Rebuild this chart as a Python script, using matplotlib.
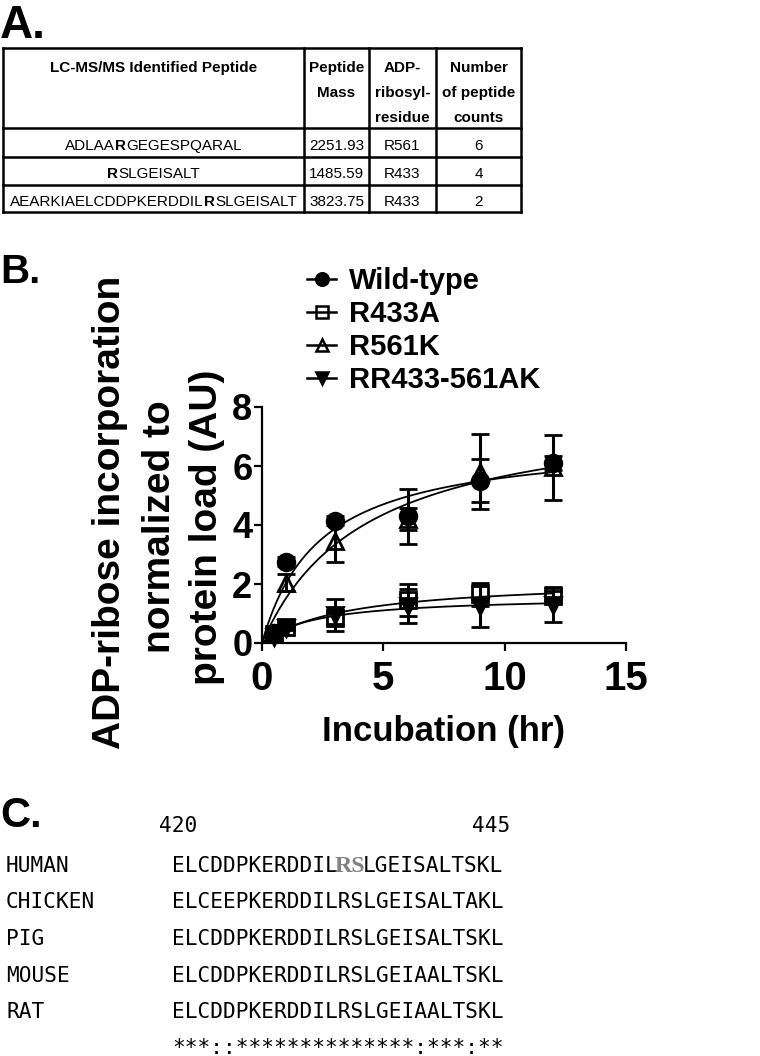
import numpy as np
import matplotlib
matplotlib.use("Agg")
import matplotlib.pyplot as plt
from matplotlib.lines import Line2D
from matplotlib import font_manager

# ---- panel A: peptide table ----
table_header = ["LC-MS/MS Identified Peptide", "Peptide\nMass",
                "ADP-\nribosyl-\nresidue", "Number\nof peptide\ncounts"]
peptides = [("ADLAA", "R", "GEGESPQARAL"),
            ("", "R", "SLGEISALT"),
            ("AEARKIAELCDDPKERDDIL", "R", "SLGEISALT")]
peptide_mass = ["2251.93", "1485.59", "3823.75"]
modified_residue = ["R561", "R433", "R433"]
peptide_counts = ["6", "4", "2"]

# ---- panel B: ADP-ribose incorporation time course ----
time_hr = [0.5, 1, 3, 6, 9, 12]
wild_type = [0.35, 2.75, 4.15, 4.3, 5.5, 6.1]
wild_type_err = [0.05, 0.15, 0.15, 0.93, 0.73, 0.25]
r433a = [0.3, 0.55, 0.85, 1.45, 1.65, 1.6]
r433a_err = [0.05, 0.05, 0.2, 0.55, 0.38, 0.15]
r561k = [0.3, 2.05, 3.45, 4.2, 5.8, 5.95]
r561k_err = [0.05, 0.3, 0.7, 0.38, 1.27, 1.1]
rr433_561ak = [0.2, 0.5, 0.95, 1.25, 1.25, 1.3]
rr433_561ak_err = [0.05, 0.05, 0.55, 0.57, 0.7, 0.6]
series_names = ["Wild-type", "R433A", "R561K", "RR433-561AK"]

# ---- panel C: sequence alignment ----
species = ["HUMAN", "CHICKEN", "PIG", "MOUSE", "RAT"]
sequences = ["ELCDDPKERDDILRSLGEISALTSKL",
             "ELCEEPKERDDILRSLGEISALTAKL",
             "ELCDDPKERDDILRSLGEISALTSKL",
             "ELCDDPKERDDILRSLGEIAALTSKL",
             "ELCDDPKERDDILRSLGEIAALTSKL"]
conservation = "***::**************:***:**"
residue_start, residue_end = "420", "445"
highlight = (13, 15)  # RS in human

W, H = 760, 1056
fig = plt.figure(figsize=(7.6, 10.56), dpi=100)


def fx(x):
    return x / W


def fy(y):
    return 1 - y / H


def hline(x0, x1, y, lw=1.8):
    fig.add_artist(Line2D([fx(x0), fx(x1)], [fy(y), fy(y)], color="k", lw=lw))


def vline(x, y0, y1, lw=1.8):
    fig.add_artist(Line2D([fx(x), fx(x)], [fy(y0), fy(y1)], color="k", lw=lw))


# narrow font for the table if we have it
try:
    font_manager.findfont(font_manager.FontProperties(family="Liberation Sans Narrow"),
                          fallback_to_default=False)
    narrow, nscale = "Liberation Sans Narrow", 1.0
except ValueError:
    narrow, nscale = "Liberation Sans", 0.82

sans = "Liberation Sans"
renderer = fig.canvas.get_renderer()

# ---------------- A ----------------
fig.text(fx(0), fy(38), "A.", fontsize=33, fontweight="bold", family=sans)

col_edges = [3, 304, 369, 436, 521]
row_edges = [48, 128, 157, 185, 212]
for y in row_edges:
    hline(col_edges[0], col_edges[-1], y)
for x in col_edges:
    vline(x, row_edges[0], row_edges[-1])

tsize = 13.4 * nscale
col_centers = [(a + b) / 2 for a, b in zip(col_edges[:-1], col_edges[1:])]
for cx, head in zip(col_centers, table_header):
    for i, line in enumerate(head.split("\n")):
        fig.text(fx(cx), fy(72 + 25 * i), line, ha="center", va="baseline",
                 fontsize=tsize, fontweight="bold", family=narrow)

row_base = [150, 178, 205.5]
for i, (pre, mid, post) in enumerate(peptides):
    segs = [(pre, "normal"), (mid, "bold"), (post, "normal")]
    objs, widths = [], []
    for s, wgt in segs:
        if not s:
            continue
        t = fig.text(0, 0, s, fontsize=tsize, fontweight=wgt, family=narrow,
                     va="baseline", ha="left")
        widths.append(t.get_window_extent(renderer).width)
        objs.append(t)
    x = col_centers[0] - sum(widths) / 2
    for t, wd in zip(objs, widths):
        t.set_position((fx(x), fy(row_base[i])))
        x += wd
    for cx, val in zip(col_centers[1:], [peptide_mass[i], modified_residue[i], peptide_counts[i]]):
        fig.text(fx(cx), fy(row_base[i]), val, ha="center", va="baseline",
                 fontsize=tsize, family=narrow)

# ---------------- B ----------------
fig.text(fx(0), fy(283), "B.", fontsize=29, fontweight="bold", family=sans)

ax = fig.add_axes([fx(262), fy(643), (626 - 262) / W, (643 - 407) / H])

t_arr = np.array(time_hr, dtype=float)
tt = np.linspace(0, 12, 200)


def hyperbola_fit(t, y):
    # one-site hyperbola y = Bmax*t/(K+t), grid over K, closed form Bmax
    best = None
    for K in np.linspace(0.05, 20, 4000):
        g = t / (K + t)
        B = np.dot(g, y) / np.dot(g, g)
        r = np.sum((y - B * g) ** 2)
        if best is None or r < best[0]:
            best = (r, B, K)
    return best[1], best[2]


styles = [
    (wild_type, wild_type_err, "o", "k"),
    (r433a, r433a_err, "s", "none"),
    (r561k, r561k_err, "^", "none"),
    (rr433_561ak, rr433_561ak_err, "v", "k"),
]
handles = []
for vals, errs, mk, fc in styles:
    ax.errorbar(time_hr, vals, yerr=errs, fmt=mk, ms=12, mfc=fc, mec="k", mew=2,
                ecolor="k", elinewidth=2.2, capsize=6.5, capthick=2.2, ls="none",
                clip_on=False, zorder=3)
    B, K = hyperbola_fit(t_arr, np.array(vals, dtype=float))
    ax.plot(tt, B * tt / (K + tt), color="k", lw=1.3, zorder=2)
    handles.append(Line2D([0], [0], color="k", lw=1.8, marker=mk, ms=9,
                          mfc=fc, mec="k", mew=1.8))

ax.set_xlim(0, 15)
ax.set_ylim(0, 8)
ax.set_xticks([0, 5, 10, 15])
ax.set_yticks([0, 2, 4, 6, 8])
for s in ["top", "right"]:
    ax.spines[s].set_visible(False)
for s in ["left", "bottom"]:
    ax.spines[s].set_linewidth(1.6)
ax.tick_params(direction="out", length=6, width=1.6)
ax.tick_params(axis="x", labelsize=29, pad=6)
ax.tick_params(axis="y", labelsize=26, pad=1)
for lab in ax.get_xticklabels() + ax.get_yticklabels():
    lab.set_fontweight("bold")
    lab.set_family(sans)

ylab_lines = ["ADP-ribose incorporation", "normalized to", "protein load (AU)"]
for x, yc, txt in zip([110, 160, 207], [512, 527, 527], ylab_lines):
    fig.text(fx(x), fy(yc), txt, rotation=90, ha="center", va="center",
             fontsize=28, fontweight="bold", family=sans)
fig.text(fx(443), fy(731), "Incubation (hr)", ha="center", va="center",
         fontsize=25, fontweight="bold", family=sans)

ax.legend(handles, series_names, loc="upper left",
          bbox_to_anchor=(fx(307), fy(267)), bbox_transform=fig.transFigure,
          frameon=False, borderaxespad=0, borderpad=0, handlelength=1.0,
          handletextpad=0.45, labelspacing=0.17,
          prop=dict(family=sans, weight="bold", size=21))

# ---------------- C ----------------
fig.text(fx(0), fy(827), "C.", fontsize=30, fontweight="bold", family=sans)

mono = "DejaVu Sans Mono"
msize = 15.2
cw = msize * 100 / 72 * 0.6021  # monospace advance in px
seq_x = 172

fig.text(fx(159), fy(832), residue_start, fontsize=msize, family=mono, va="baseline")
fig.text(fx(510), fy(832), residue_end, fontsize=msize, family=mono, va="baseline", ha="right")

base0, pitch = 872, 36.5
for i, (name, seq) in enumerate(zip(species, sequences)):
    yb = base0 + pitch * i
    fig.text(fx(6), fy(yb), name, fontsize=msize, family=mono, va="baseline")
    if i == 0:
        a, b = highlight
        fig.text(fx(seq_x), fy(yb), seq[:a], fontsize=msize, family=mono, va="baseline")
        fig.text(fx(seq_x + (a + b) / 2 * cw), fy(yb), seq[a:b], fontsize=msize + 2,
                 family="Liberation Serif", fontweight="bold", color="#808080",
                 va="baseline", ha="center")
        fig.text(fx(seq_x + b * cw), fy(yb), seq[b:], fontsize=msize, family=mono,
                 va="baseline")
    else:
        fig.text(fx(seq_x), fy(yb), seq, fontsize=msize, family=mono, va="baseline")

fig.text(fx(seq_x), fy(1054), conservation, fontsize=msize, family=mono, va="baseline")

fig.savefig("out.png", dpi=100)
